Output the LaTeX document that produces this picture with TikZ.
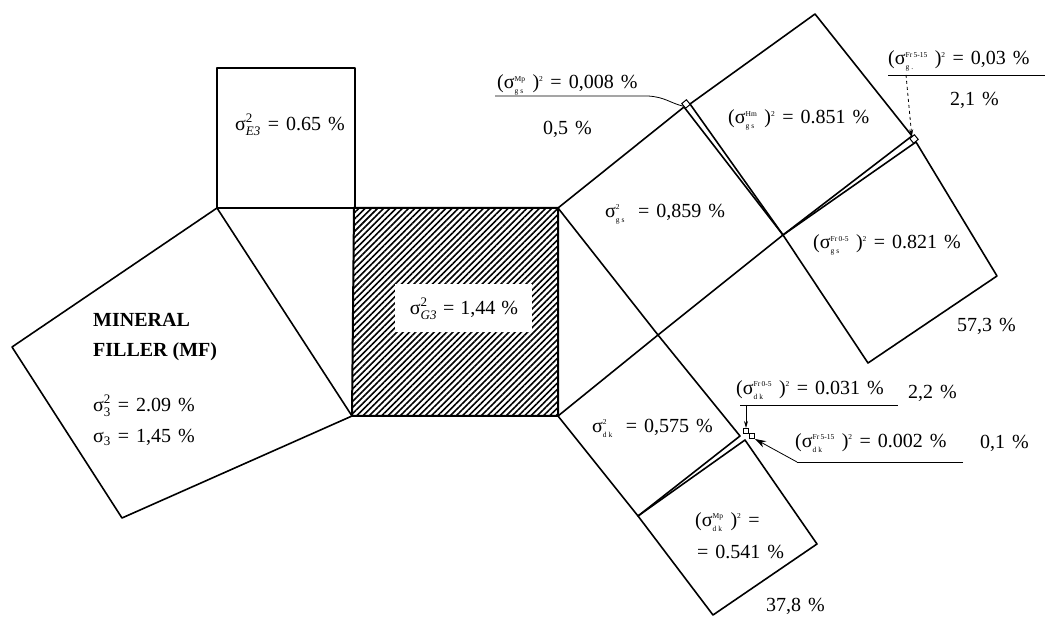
\documentclass[tikz,border=0pt]{standalone}
\usepackage{fontspec}
\setmainfont{Liberation Serif}
\usetikzlibrary{patterns.meta,arrows.meta}
\newcommand\ssz[1]{\mbox{\fontsize{7.5}{7.5}\selectfont\spaceskip 0pt\relax #1}}
\newcommand\msz[1]{\mbox{\fontsize{13}{13}\selectfont\spaceskip 0pt\relax #1}}
\newcommand\sg{\mbox{σ}}
\newcommand\pv[2]{(\ensuremath{\sg^{\ssz{#1}}_{\ssz{#2}}}\hspace{7pt})\ensuremath{{}^{\ssz{2}}}}
\newcommand\bigfont{\fontsize{20}{22}\selectfont\spaceskip 7pt\relax}
\newcommand\midfont{\fontsize{20}{22}\selectfont\spaceskip 6pt\relax}
\begin{document}
\begin{tikzpicture}[x=1pt,y=-1pt,
  edge/.style={line width=1.6pt, line join=round},
  lbl/.style={anchor=west, inner sep=0pt, font=\bigfont},
  mflbl/.style={anchor=west, inner sep=0pt, font=\fontsize{20}{22}\selectfont\bfseries},
  tinysq/.style={draw, line width=1pt, fill=white, minimum size=6pt, inner sep=0pt},
  lead/.style={line width=0.8pt}]
\useasboundingbox (0,0) rectangle (1045,617);
% main corners
\coordinate (A) at (217,208);
\coordinate (B) at (355,208);
\coordinate (E1) at (217,68);
\coordinate (E2) at (355,68);
\coordinate (GTL) at (354,208);
\coordinate (GTR) at (558,208);
\coordinate (GBR) at (558,416);
\coordinate (GBL) at (352,416);
\coordinate (M1) at (12,347);
\coordinate (M2) at (122,518);
\coordinate (P) at (658,335);
\coordinate (gsT) at (684,107);
\coordinate (HmL) at (690,104);
\coordinate (gsR) at (783,235);
\coordinate (HmT) at (815,14);
\coordinate (HmR) at (912,136);
\coordinate (FrT) at (916,142);
\coordinate (FrR) at (997,276);
\coordinate (FrB) at (868,363);
\coordinate (dkR) at (740,436);
\coordinate (MpT) at (745,440);
\coordinate (dkB) at (638,516);
\coordinate (MpR) at (817,544);
\coordinate (MpB) at (713,615);
% hatched G3 square
\fill[pattern={Lines[angle=45,distance=4.4pt,line width=1.6pt]}] (GTL) -- (GTR) -- (GBR) -- (GBL) -- cycle;
\draw[line width=2pt] (GTL) -- (GTR) -- (GBR) -- (GBL) -- cycle;
% squares
\draw[edge] (E1) -- (E2) -- (B) -- (A) -- cycle;
\draw[edge] (A) -- (M1) -- (M2) -- (GBL) -- cycle;
\draw[edge] (GTR) -- (gsT) -- (gsR) -- (P) -- cycle;
\draw[edge] (HmL) -- (HmT) -- (HmR) -- (gsR) -- cycle;
\draw[edge] (gsR) -- (FrT) -- (FrR) -- (FrB) -- cycle;
\draw[edge] (P) -- (GBR) -- (dkB) -- (dkR) -- cycle;
\draw[edge] (dkB) -- (MpT) -- (MpR) -- (MpB) -- cycle;
% tiny squares
\node[tinysq, rotate=39] (sqA) at (686,104) {};
\node[tinysq, rotate=39] (sqB) at (914,139) {};
\node[tinysq, minimum size=5pt] (sqC) at (746,431) {};
\node[tinysq, minimum size=5pt] (sqD) at (752,436) {};
% G3 label box
\fill[white] (395,284) rectangle (532,332);
\node[inner sep=0pt, font=\midfont] (tG3) at (464,309) {$\sg^{\msz{2}}_{\msz{\itshape G3}}$ = 1,44 \%};
% labels
\node[lbl] (tE3) at (235,125) {$\sg^{\msz{2}}_{\msz{\itshape E3}}$ = 0.65 \%};
\node[mflbl] (tMF1) at (93,320) {MINERAL};
\node[mflbl] (tMF2) at (93,352) {FILLER (MF)};
\node[lbl] (tMF3) at (93,406) {$\sg^{\msz{2}}_{\msz{3}}$ = 2.09 \%};
\node[lbl] (tMF4) at (93,437) {$\sg_{\msz{3}}$ = 1,45 \%};
\node[lbl] (tMpgs) at (497,85) {\pv{Mp}{g s} = 0,008 \%};
\node[lbl] (t05) at (543,129) {0,5 \%};
\node[lbl] (tFr515gs) at (888,61) {\pv{Fr\,5-15}{g .} = 0,03 \%};
\node[lbl] (t21) at (950,100) {2,1 \%};
\node[lbl] (tHm) at (728,120) {\pv{Hm}{g s} = 0.851 \%};
\node[lbl] (tgs) at (605,214) {$\sg^{\ssz{2}}_{\ssz{g s}}$\hspace{6pt} = 0,859 \%};
\node[lbl] (tFr05gs) at (813,245) {\pv{Fr\,0-5}{g s} = 0.821 \%};
\node[lbl] (t573) at (957,326) {57,3 \%};
\node[lbl] (tFr05dk) at (736,390) {\pv{Fr\,0-5}{d k} = 0.031 \%};
\node[lbl] (t22) at (908,393) {2,2 \%};
\node[lbl] (tFr515dk) at (795,443) {\pv{Fr\,5-15}{d k} = 0.002 \%};
\node[lbl] (t01) at (980,443) {0,1 \%};
\node[lbl] (tdk) at (592,428) {$\sg^{\ssz{2}}_{\ssz{d k}}$\hspace{6pt} = 0,575 \%};
\node[lbl] (tMpdk1) at (695,522) {\pv{Mp}{d k} =};
\node[lbl] (tMpdk2) at (697,552) {= 0.541 \%};
\node[lbl] (t378) at (766,606) {37,8 \%};
% leaders
\coordinate (u1a) at (495,96);
\coordinate (u1b) at (648,96);
\draw[lead] (u1a) -- (u1b) .. controls (665,97) and (670,103) .. (sqA.west);
\coordinate (u2a) at (888,75);
\coordinate (u2b) at (1045,75);
\coordinate (u2s) at (906,75);
\draw[lead] (u2a) -- (u2b);
\draw[lead, dashed, -{Stealth[length=7pt,width=4pt]}] (u2s) -- (sqB.north);
\coordinate (u4a) at (740,405);
\coordinate (u4b) at (898,405);
\coordinate (u4s) at (746,405);
\draw[lead] (u4a) -- (u4b);
\draw[lead, -{Stealth[length=7pt,width=4pt]}] (u4s) -- (sqC.north);
\coordinate (u5a) at (797,462);
\coordinate (u5b) at (963,462);
\draw[lead] (u5b) -- (u5a);
\draw[lead, -{Stealth[length=11pt,width=7pt]}] (u5a) -- (sqD.south east);
\end{tikzpicture}
\end{document}
